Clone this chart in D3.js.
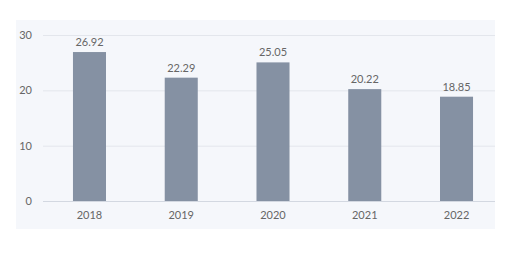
<!DOCTYPE html>
<html><head><meta charset="utf-8">
<script src="https://cdn.jsdelivr.net/npm/d3@7"></script>
<style>html,body{margin:0;padding:0;background:#fff;}svg{display:block;}</style>
</head><body>
<svg id="c" width="507" height="259"></svg>
<script>
const categories = ["2018","2019","2020","2021","2022"];
const values = [26.92, 22.29, 25.05, 20.22, 18.85];
const yTicks = [0, 10, 20, 30];

const svg = d3.select("#c");
svg.append("rect").attr("x",16).attr("y",20).attr("width",479).attr("height",209).attr("fill","#f5f7fb");

const y = d3.scaleLinear().domain([0,30]).range([201,35]);
const x = d3.scaleBand().domain(categories).range([43.6,502.4]).paddingInner(0.64).paddingOuter(0.32);
const font = "Lato, 'Open Sans', sans-serif";

const yAxis = d3.axisLeft(y).tickValues(yTicks).tickSize(-(495-43)).tickPadding(11).tickFormat(d3.format("d"));
const gy = svg.append("g").attr("transform","translate(43,0)").call(yAxis);
gy.select(".domain").remove();
gy.selectAll(".tick line").attr("stroke", d => d===0 ? "#d3d8e1" : "#e3e6ec").attr("stroke-width",1);
gy.selectAll(".tick text").attr("fill","#666").attr("font-size","11px").attr("font-family",font);

svg.append("g").selectAll("rect").data(values).join("rect")
  .attr("x",(d,i)=>x(categories[i])).attr("width",x.bandwidth())
  .attr("y",d=>y(d)).attr("height",d=>y(0)-y(d)).attr("fill","#8591a3");

svg.append("g").selectAll("text").data(values).join("text")
  .attr("x",(d,i)=>x(categories[i])+x.bandwidth()/2).attr("y",d=>y(d)-6)
  .attr("text-anchor","middle").attr("fill","#666").attr("font-size","11px").attr("font-family",font)
  .text(d=>d.toFixed(2));

const xAxis = d3.axisBottom(x).tickSize(0).tickPadding(10);
const gx = svg.append("g").attr("transform","translate(0,201)").call(xAxis);
gx.select(".domain").remove();
gx.selectAll(".tick text").attr("fill","#666").attr("font-size","11px").attr("font-family",font);
</script>
</body></html>
